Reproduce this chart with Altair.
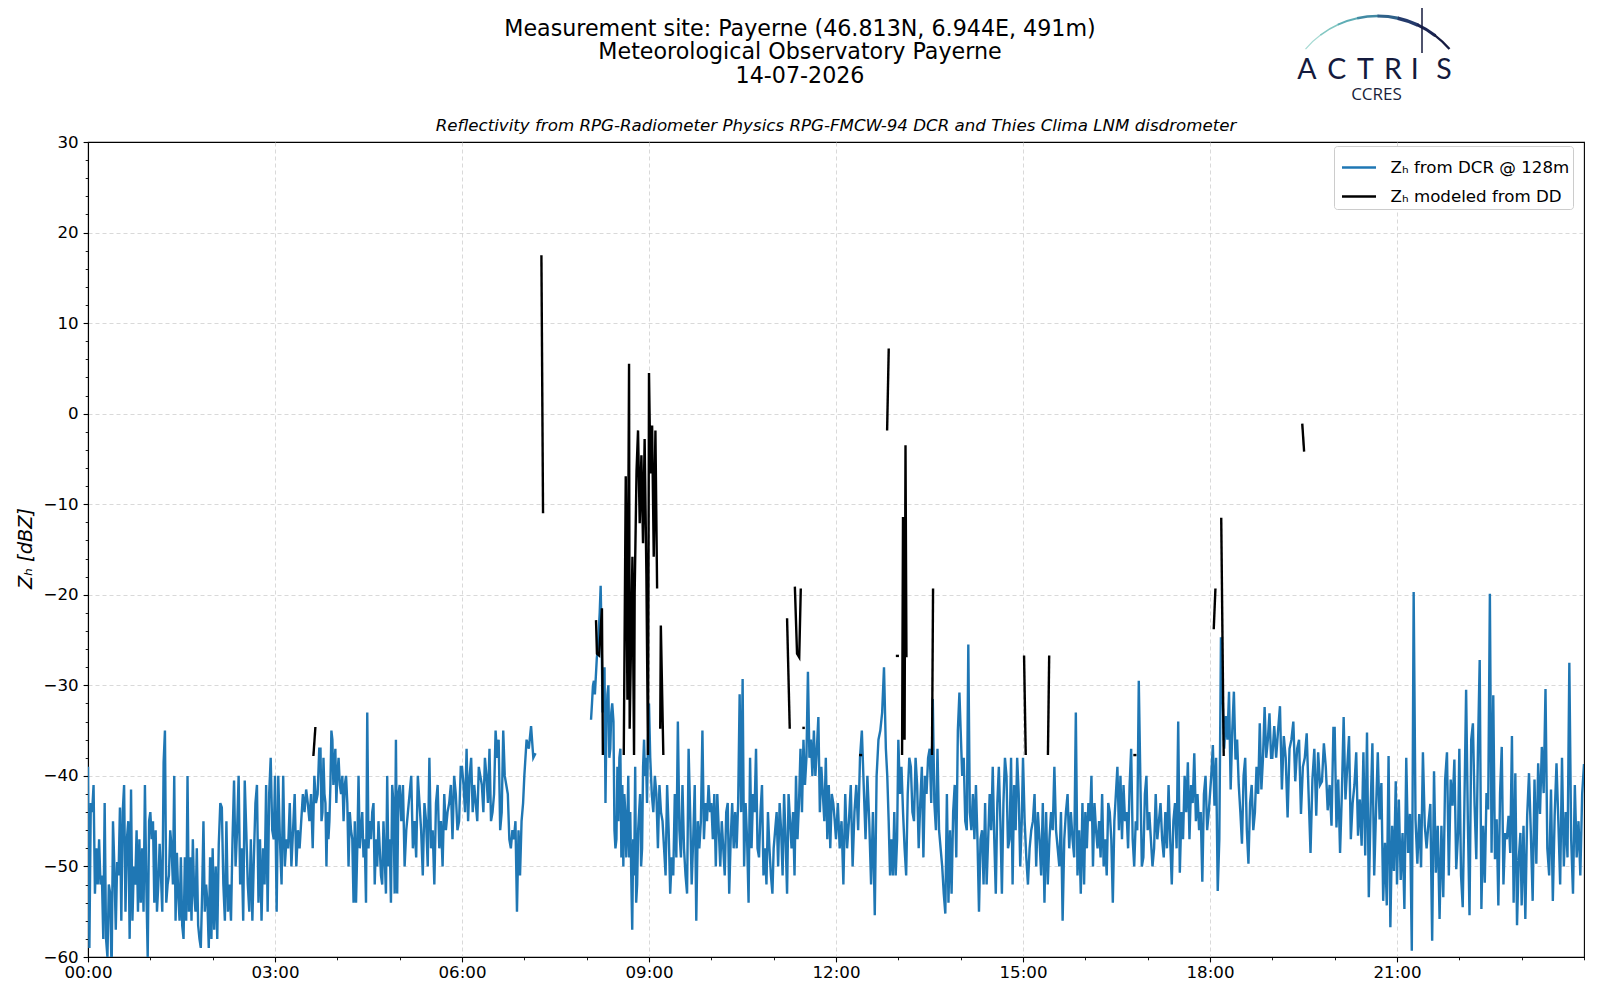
import altair as alt
import pandas as pd

# ---------------- text ----------------
TITLE_LINES = ["Measurement site: Payerne (46.813N, 6.944E, 491m)",
               "Meteorological Observatory Payerne",
               "14-07-2026"]
SUBTITLE = "Reflectivity from RPG-Radiometer Physics RPG-FMCW-94 DCR and Thies Clima LNM disdrometer"
LBL_DCR = "Zₕ from DCR @ 128m"
LBL_DD = "Zₕ modeled from DD"
Y_TITLE = "Zₕ [dBZ]"

x_major = [0, 3, 6, 9, 12, 15, 18, 21]
x_minor = list(range(0, 25))
y_major = list(range(-60, 31, 10))
y_minor = list(range(-60, 31, 2))

# ---------------- blue: Z_H from DCR (dBZ), read per hour ----------------
blue_h00 = [-39, -59, -43, -44, -41, -53, -48, -52, -47, -52, -51, -58, -43, -58, -60, -52, -53, -62, -45, -50,
            -57, -49.5, -51, -43.5, -56, -44, -41, -55, -47, -45, -58, -41.5, -56, -50, -52, -46, -55, -47, -54,
            -48, -55, -41, -52, -60, -45]
blue_h01 = [-44, -47, -45, -54, -46, -55, -52, -47.5, -51, -55, -38.5, -35, -54, -52, -51, -46, -48, -52, -40,
            -56, -48.5, -53, -56, -49, -56.5, -58, -49, -56, -40, -55, -49, -56, -47, -53, -55, -48, -56.5, -58,
            -59, -53, -45, -55, -52, -54, -59, -49, -58]
blue_h02 = [-48, -57, -50, -58, -47.5, -43, -43.5, -52, -56, -45, -55, -52, -56, -47, -40.5, -50, -46, -40, -52,
            -48, -56, -40.5, -46, -52, -55, -47, -56, -49, -43, -41, -54, -47, -56, -48, -52, -41, -55, -42, -38,
            -46, -47]
blue_h03a = [-40, -55, -40, -47, -52, -40, -50, -47, -48, -43, -50, -46, -42, -50, -46, -48, -45, -42, -44, -41.5,
             -43, -45, -42, -48, -40, -43, -42, -37]
blue_h03b = [-37, -45, -44, -38, -42, -43, -50, -44, -47, -45, -41, -35, -36, -41, -39, -37, -43, -40]
blue_h04 = [-38, -41, -42, -40, -45, -41, -40, -43, -50, -44, -46, -47, -54, -45, -54, -48, -40, -48, -46, -44,
            -49, -47, -54, -33, -48, -45, -47, -44, -43, -52, -47, -50, -45, -48, -51, -52, -45, -49, -53, -40,
            -50, -47, -54, -41, -43, -53, -36, -53, -42]
blue_h05 = [-41, -45, -41, -50, -46, -44, -42, -40, -48, -45, -49, -40, -43, -46, -51, -43, -45, -50, -38, -48,
            -46, -52, -43, -41, -48, -45, -50, -42, -46, -44, -43, -41, -47, -40, -42, -46, -45, -39]
blue_h06 = [-39, -41, -44, -37, -45, -40, -38, -44, -41, -43, -45, -39, -40, -41, -44, -38, -40, -43, -37, -45,
            -44, -42, -35, -38, -36, -46, -44, -35, -40, -41, -42, -47, -48, -46, -47, -45, -55, -46, -51, -45, -43]
blue_h07 = [-40, -36, -37, -34.5, -38, -37.5]
blue_h08a = [-33.8, -32, -30, -29.5, -31, -29, -27, -26, -24, -22, -19, -25, -33, -31, -28, -43, -34, -31, -30,
             -38, -37, -33, -32]
blue_h08b = [-34, -46, -48, -47, -39, -45, -38, -37, -49, -41, -50, -42, -44, -49, -46, -40, -49, -44, -51, -57,
             -47, -51, -39, -54, -52, -46, -44, -42, -50, -48, -39, -36, -40, -38, -43, -36, -32]
blue_h09 = [-38, -42, -44, -40, -42, -48, -41, -44, -45, -48, -51, -41, -46, -53, -49, -51, -42, -49, -34, -46,
            -49, -41, -48, -51, -53, -37, -44, -52, -47, -41, -56, -45, -48, -45, -35, -47, -43, -45, -41, -44]
blue_h10 = [-43, -47, -42, -50, -42, -46, -50, -45, -48, -51, -44, -43, -53, -47, -43, -48, -44, -48, -43, -31,
            -44, -29.3, -50, -43, -47, -54, -38, -48, -42, -44, -37, -48, -49, -44, -41, -51, -48, -52, -44, -48,
            -51, -53]
blue_h11 = [-48, -46, -44, -50, -43, -46, -51, -42, -47, -53, -42, -45, -48, -44, -51, -40, -47, -43, -37, -44,
            -36, -41, -38, -28.5, -38, -36, -40, -35, -40, -37, -33.5, -44, -39, -42, -45, -38, -47, -41, -48,
            -42, -43, -45]
blue_h12a = [-47, -43, -48, -45, -52, -42, -48, -45, -41, -50, -44, -41, -46, -38, -35, -41, -47, -40, -45, -52,
             -44, -55.4, -40, -36, -35, -33, -28]
blue_h12b = [-37, -40, -45, -51, -47, -51, -44, -51, -47]
blue_h13 = [-36, -42, -39, -44, -48, -51, -42, -38, -39, -44, -45, -38, -41, -48, -43, -39, -49, -40, -42, -38,
            -37, -43, -31.5, -43, -46, -37, -46, -48, -50, -53, -55.2, -42, -54, -46, -53, -44, -41, -49, -35, -30.8]
blue_h14 = [-35, -40, -38, -45, -46, -25.5, -44, -46, -42, -47, -41, -47, -55, -47, -46, -52, -43, -52, -47, -42,
            -46, -39, -47, -53, -43, -39, -45, -53, -43, -38, -40, -48, -47, -38, -52, -41, -46, -38, -42, -50, -45]
blue_h15 = [-38, -45, -49, -52, -48, -46, -45, -42, -50, -44, -47, -51, -43, -54, -44, -52, -47, -44, -46, -39,
            -46, -48, -50, -44, -56, -47, -44, -42, -48, -44, -47, -49, -33, -51, -46, -53, -43, -52]
blue_h16 = [-44, -48, -43, -45, -40, -50, -43, -46, -48, -45, -49, -42, -50, -47, -51, -43, -44, -47, -54, -45,
            -42, -39, -46, -40, -47, -41, -45, -44, -48, -41, -37, -47, -50, -45, -46, -29.5, -40, -50, -49, -42, -40]
blue_h17 = [-46, -44, -47, -50, -48, -42, -47, -45, -43, -47, -49, -44, -48, -41, -47, -52, -45, -43, -48, -34,
            -50.7, -44, -47, -40, -44, -38.5, -47, -41, -43, -37.5, -45, -42, -46, -44, -51.7, -42, -40, -46, -44]
blue_h18 = [-40, -36.6, -43.3, -38, -52.7, -47, -24.7, -31, -37, -33.4, -36, -30.7, -41.5, -35, -30.7, -38.2, -36,
            -41, -44, -47.5, -40, -38, -46, -49.7, -43, -41, -46, -44, -39, -42, -34.2, -41.5, -38, -32.4, -38, -36,
            -33.1, -38]
blue_h19 = [-38, -34.5, -38, -35, -32.3, -41.5, -35.6, -38, -44.6, -37, -36, -34, -40.6, -37, -36, -44.2, -39,
            -38, -35.3, -42, -48.5, -40.4, -37, -44.4, -37.4, -41, -40.6, -36.4, -39, -43.8, -41, -45.5, -34.7]
blue_h20 = [-34.7, -45.7, -40.4, -48.5, -42, -33.5, -42.6, -39, -35.6, -47, -43, -41, -37.4, -46.6, -42.6, -47.7,
            -37.4, -48.8, -35.2, -53.4, -43.7, -36.4, -51, -44, -37.4, -44.8, -40.8, -53.8, -47.4, -54.3, -37.8,
            -56.7, -45.5, -50.5, -40.6]
blue_h21 = [-52, -42.6, -51.5, -46.3, -54.7, -38, -48.5, -44.2, -59.3, -19.7, -44.8, -49.7, -44.2, -50.1, -37.4,
            -45.5, -48, -45.2, -43.1, -58.2, -39.5, -50.7, -45.5, -55.8, -45.5, -53.4, -40.4, -37.4, -51, -40.4,
            -43.3, -38.2, -50.3, -46.3]
blue_h22 = [-37, -51, -54.5, -43, -30.5, -44.8, -55.4, -36, -34.2, -43.3, -49.2, -36.8, -27.2, -54.7, -45.5,
            -51.8, -41.9, -43.7, -19.9, -48.5, -31.1, -49.2, -44.8, -54.3, -41.9, -36.8, -52, -46.3, -47, -44.4,
            -48.5, -35.6, -54, -39.7, -56.5, -49.2, -46.3]
blue_h23 = [-54.3, -45.5, -55.8, -44.4, -39.7, -46.3, -53.8, -40.4, -49.7, -38.6, -44.2, -36.8, -41.9, -30.4, -48,
            -51, -41.5, -53.8, -44.4, -38.6, -45, -52, -38, -50, -44, -49, -27.5, -47, -53, -41, -49, -45, -51,
            -42, -38.7]

# (first hour, last hour, values) - time stamps in decimal hours
blue_chunks = [
    (0.00, 0.98, blue_h00), (1.00, 1.98, blue_h01), (2.00, 2.98, blue_h02),
    (3.00, 3.71, blue_h03a), (3.73, 4.00, blue_h03b), (4.02, 4.98, blue_h04),
    (5.00, 5.98, blue_h05), (6.00, 6.98, blue_h06), (7.00, 7.18, blue_h07),
    (8.07, 8.41, blue_h08a), (8.43, 9.00, blue_h08b), (9.02, 9.98, blue_h09),
    (10.00, 10.98, blue_h10), (11.00, 11.98, blue_h11), (12.00, 12.77, blue_h12a),
    (12.80, 12.98, blue_h12b), (13.00, 13.98, blue_h13), (14.00, 14.98, blue_h14),
    (15.00, 15.98, blue_h15), (16.00, 16.98, blue_h16), (17.00, 17.98, blue_h17),
    (18.02, 18.98, blue_h18), (19.00, 19.98, blue_h19), (20.00, 20.98, blue_h20),
    (21.00, 21.98, blue_h21), (22.00, 22.98, blue_h22), (23.00, 24.00, blue_h23),
]
blue_gap_start = 7.5  # no DCR data between ~07:11 and ~08:04

# ---------------- black: Z_H modeled from disdrometer, (hour, dBZ) per rain episode ----------------
black_segments = [
    [(3.616, -37.8), (3.648, -34.6)],
    [(7.274, 17.5), (7.300, -11.0)],
    [(8.150, -22.8), (8.165, -26.5), (8.200, -26.7), (8.245, -21.5), (8.260, -37.7)],
    [(8.595, -37.7), (8.627, -6.9), (8.654, -31.6), (8.680, 5.5), (8.690, -34.8), (8.734, -15.8), (8.760, -37.7),
     (8.770, -19.9), (8.800, -6.3), (8.824, -1.85), (8.851, -12.1), (8.878, -4.6), (8.904, -14.3), (8.930, -2.8),
     (8.958, -17.7), (8.984, -37.7), (9.000, 4.5), (9.023, -6.6), (9.050, -1.3), (9.076, -15.8), (9.103, -1.85),
     (9.130, -19.3)],
    [(9.180, -34.8), (9.190, -23.4), (9.230, -37.7)],
    [(11.215, -22.6), (11.258, -34.8)],
    [(11.340, -19.1), (11.375, -26.5), (11.410, -26.9), (11.435, -19.3)],
    [(11.460, -34.7), (11.500, -34.7)],
    [(12.370, -37.7), (12.420, -37.7)],
    [(12.820, -1.85), (12.846, 7.2)],
    [(12.960, -26.75), (13.010, -26.75)],
    [(13.060, -37.7), (13.075, -11.4), (13.090, -14.0), (13.100, -36.0), (13.115, -3.5), (13.130, -26.9)],
    [(13.540, -37.7), (13.557, -19.3)],
    [(15.017, -26.7), (15.044, -37.7)],
    [(15.400, -37.7), (15.420, -26.7)],
    [(16.770, -37.7), (16.820, -37.7)],
    [(18.060, -23.8), (18.087, -19.3)],
    [(18.180, -11.5), (18.220, -37.8)],
    [(19.480, -1.1), (19.510, -4.2)],
]

# ---------------- tables ----------------
blue_rows = []
for start, end, vals in blue_chunks:
    n = len(vals)
    for i, v in enumerate(vals):
        t = start + (end - start) * i / (n - 1)
        blue_rows.append({"t": t, "v": v, "seg": "b0" if start < blue_gap_start else "b1", "series": LBL_DCR})
blue_df = pd.DataFrame(blue_rows)

black_rows = []
for k, seg in enumerate(black_segments):
    for t, v in seg:
        black_rows.append({"t": t, "v": v, "seg": f"k{k}", "series": LBL_DD})
black_df = pd.DataFrame(black_rows)

# ---------------- styling ----------------
FONT = "DejaVu Sans"
W, H = 1496, 815
LW = 2.4
GRID = dict(grid=True, gridColor="#cfcfcf", gridDash=[4, 3], gridWidth=0.8)

xscale = alt.Scale(domain=[0, 24], nice=False, zero=False)
yscale = alt.Scale(domain=[-60, 30], nice=False, zero=False)

legend = alt.Legend(title=None, orient="none", legendX=1246, legendY=4, direction="vertical",
                    fillColor="white", strokeColor="#cccccc", cornerRadius=3, padding=3,
                    symbolType="stroke", symbolStrokeWidth=LW, symbolSize=1156, symbolOffset=3.5,
                    labelFont=FONT, labelFontSize=16.67, labelColor="black", labelOffset=13,
                    labelLimit=400, rowPadding=1)
color = alt.Color("series:N", scale=alt.Scale(domain=[LBL_DCR, LBL_DD], range=["#1f77b4", "#000000"]),
                  legend=legend)

x_axis_major = alt.Axis(values=x_major, orient="bottom", title=None,
                        labelExpr="(datum.value < 10 ? '0' : '') + datum.value + ':00'",
                        labelFont=FONT, labelFontSize=16.67, labelColor="black", labelPadding=3,
                        labelFlush=False, labelOverlap=False,
                        tickSize=4.9, tickWidth=1.1, tickColor="black",
                        domain=True, domainColor="black", domainWidth=1.1, **GRID)
y_axis_major = alt.Axis(values=y_major, orient="left", title=Y_TITLE,
                        titleFont=FONT, titleFontSize=19.4, titleFontStyle="italic", titleFontWeight="normal",
                        titleColor="black", titleAngle=270, titleX=-63, titleY=406,
                        titleAlign="center", titleBaseline="middle",
                        labelFont=FONT, labelFontSize=16.67, labelColor="black", labelPadding=5,
                        labelFlush=False, labelOverlap=False,
                        tickSize=4.9, tickWidth=1.1, tickColor="black",
                        domain=True, domainColor="black", domainWidth=1.1,
                        grid=True, gridColor="#cfcfcf", gridDash=[4, 3], gridWidth=0.8,
                        gridOpacity={"condition": {"test": "datum.value >= 30", "value": 0}, "value": 1})
x_axis_minor = alt.Axis(values=x_minor, orient="bottom", title=None, labels=False, grid=False,
                        tickSize=2.8, tickWidth=0.9, tickColor="black", domain=False)
y_axis_minor = alt.Axis(values=y_minor, orient="left", title=None, labels=False, grid=False,
                        tickSize=2.8, tickWidth=0.9, tickColor="black", domain=False)

blue = alt.Chart(blue_df).mark_line(strokeWidth=LW, clip=True).encode(
    x=alt.X("t:Q", scale=xscale, axis=x_axis_major),
    y=alt.Y("v:Q", scale=yscale, axis=y_axis_major),
    color=color, detail="seg:N")

black = alt.Chart(black_df).mark_line(strokeWidth=LW, clip=True).encode(
    x=alt.X("t:Q", scale=xscale, axis=x_axis_minor),
    y=alt.Y("v:Q", scale=yscale, axis=y_axis_minor),
    color=color, detail="seg:N")


def text_layer(s, x, y, size, font=FONT, **kw):
    return alt.Chart(alt.Data(values=[{}])).mark_text(text=s, fontSize=size, font=font, **kw).encode(
        x=alt.value(x), y=alt.value(y))


layers = [blue, black]
title_y = [-113.5, -90, -66.5]
for line, ty in zip(TITLE_LINES, title_y):
    layers.append(text_layer(line, 712, ty, 22.2, align="center", baseline="middle", color="black"))
layers.append(text_layer(SUBTITLE, W / 2, -16.5, 16.67, align="center", baseline="middle",
                         fontStyle="italic", color="black"))

# ---- ACTRIS / CCRES logo ----
LOGO_NAVY = "#141a3d"
logo_letters = ["A", "C", "T", "R", "I", "S"]
logo_letter_x = [1219, 1248.7, 1277.3, 1304.9, 1326.8, 1355.9]
for ch, lx in zip(logo_letters, logo_letter_x):
    layers.append(text_layer(ch, lx, -63.5, 28.5, font="Lato", align="center", baseline="alphabetic",
                             color=LOGO_NAVY))
layers.append(text_layer("CCRES", 1288.5, -47.5, 17, font="Open Sans", align="center", baseline="middle",
                         color="#1b1f3b"))
arc_colors = ["#a6dad3", "#82c7c2", "#5eadb5", "#4189a3", "#2f6189", "#243a6b", "#1b2553", "#161b41"]
arc_widths = [1.2, 1.6, 2.0, 2.6, 3.2, 3.6, 3.1, 2.3]
a0, a1 = 5.4232, 7.1432
step = (a1 - a0) / len(arc_colors)
for i, (c, wdt) in enumerate(zip(arc_colors, arc_widths)):
    layers.append(alt.Chart(alt.Data(values=[{}])).mark_arc(
        theta=a0 + i * step, theta2=min(a1, a0 + (i + 1) * step + 0.01),
        innerRadius=95 - wdt / 2, outerRadius=95 + wdt / 2, color=c).encode(
        x=alt.value(1289.5), y=alt.value(-31)))
layers.append(alt.Chart(alt.Data(values=[{}])).mark_rule(color=LOGO_NAVY, strokeWidth=1.5).encode(
    x=alt.value(1334), y=alt.value(-134), y2=alt.value(-89)))

chart = alt.layer(*layers).resolve_axis(x="independent", y="independent").properties(
    width=W, height=H,
    autosize=alt.AutoSizeParams(type="none"),
    padding={"left": 80, "top": 134, "right": 8, "bottom": 34},
    background="white",
).configure_view(stroke="black", strokeWidth=1.1)

chart.save("out.html", embed_options={"renderer": "svg", "actions": False})
